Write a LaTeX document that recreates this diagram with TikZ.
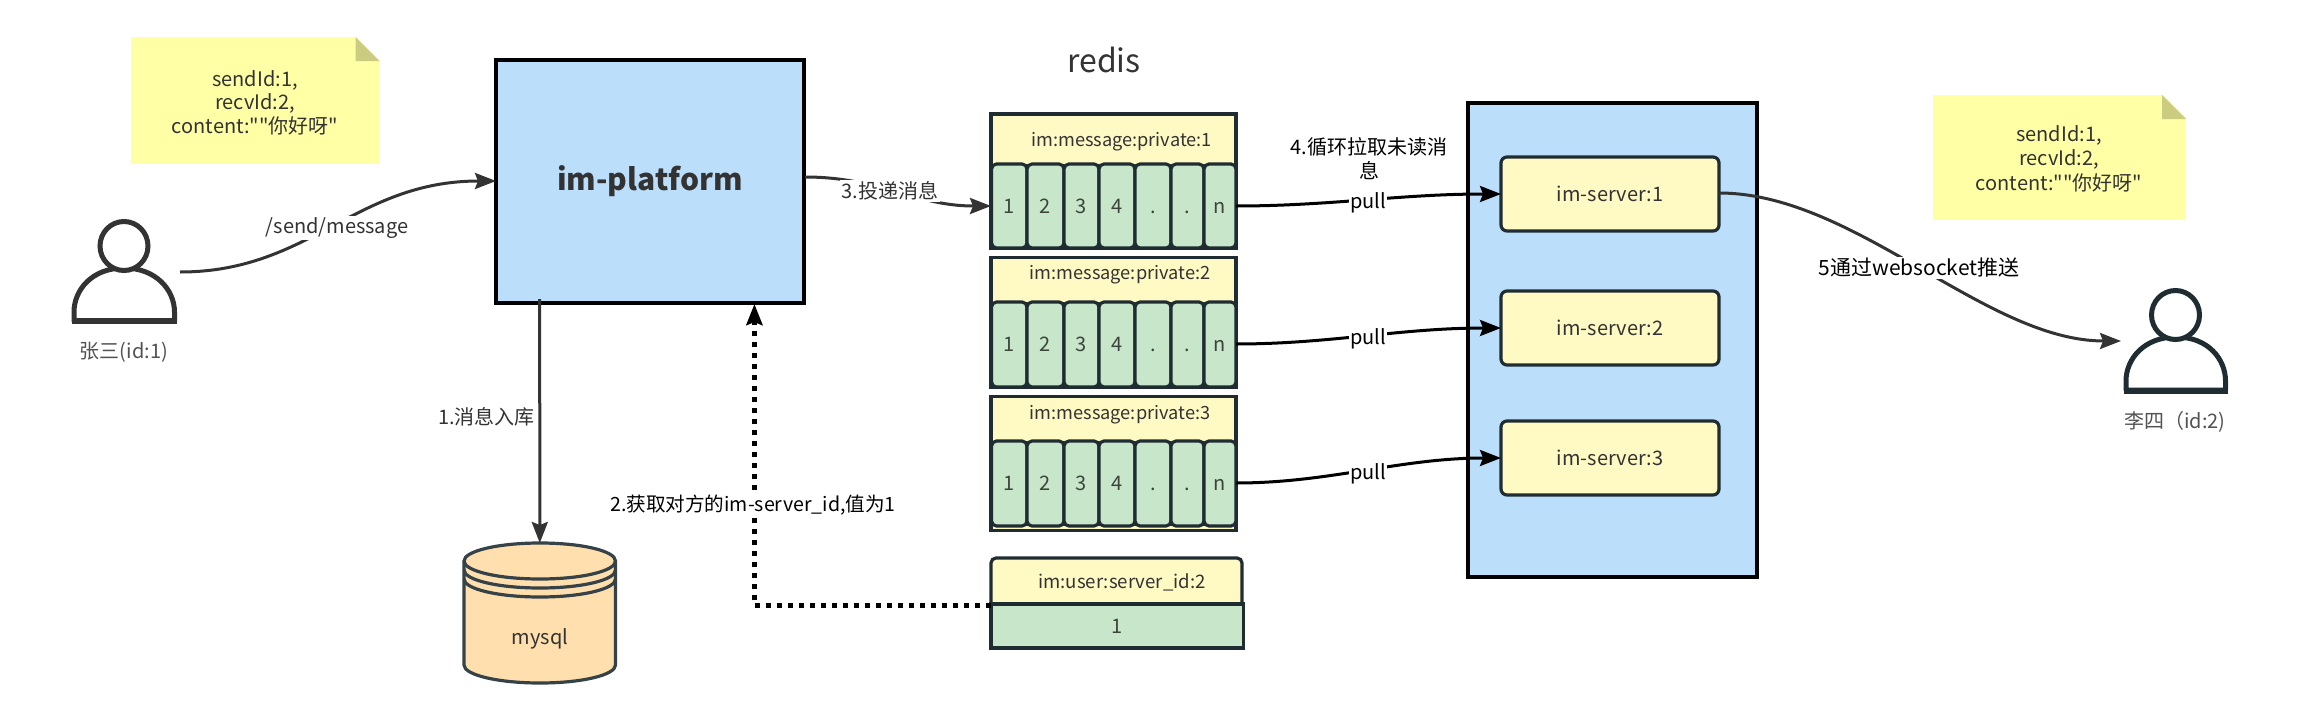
\documentclass[tikz,border=0pt]{standalone}
\usepackage{fontspec}
\newfontfamily\nf{Noto Sans CJK SC}
\usetikzlibrary{arrows.meta,calc}
\definecolor{noteY}{HTML}{FFFFA6}
\definecolor{noteF}{HTML}{CCCC80}
\definecolor{boxB}{HTML}{BBDEFB}
\definecolor{boxY}{HTML}{FFF9C4}
\definecolor{boxG}{HTML}{C8E6C9}
\definecolor{dbO}{HTML}{FFDFAE}
\definecolor{ink}{HTML}{1F2D33}
\definecolor{txt}{HTML}{333333}
\tikzset{
  x=1pt,y=-1pt,
  every node/.style={inner sep=0pt,outer sep=0pt,align=center},
  lab/.style={font=\nf\fontsize{20}{24}\selectfont,text=txt},
  small/.style={font=\nf\fontsize{18.2}{24}\selectfont,text=txt},
  edgelab/.style={lab,fill=white,inner sep=1.5pt},
  cell/.style={draw=ink,line width=3.2pt,fill=boxG,rounded corners=5pt,lab,text=black!70!boxG},
  srv/.style={draw=ink,line width=3.2pt,fill=boxY,rounded corners=6pt,lab,minimum width=218pt,minimum height=74pt},
  qbox/.style={draw=ink,line width=3.2pt,fill=boxY,minimum width=245pt},
  arrowhd/.style={-{Stealth[length=21pt,width=16pt,inset=3pt]}},
  conn/.style={arrowhd,line width=3pt,draw=txt},
  pullc/.style={arrowhd,line width=3pt,draw=black},
  pulllab/.style={edgelab,text=black},
  person/.style={line width=5pt},
}
\newcommand{\qcells}[3]{% name, top, height
  \foreach \a/\b/\t [count=\i] in {991.5/1027/1,1027/1064/2,1064/1099/3,1099/1135/4,1135/1171/.,1171/1204/.,1204/1236/n}
    \node[cell,minimum width={\b-\a},minimum height=#3] (#1c\i) at ({(\a+\b)/2},{#2+#3/2}) {\vphantom{1}\t};
}
\begin{document}
\begin{tikzpicture}
\useasboundingbox (0,0) rectangle (2299,720);
% notes
\node[fill=noteY,minimum width=249pt,minimum height=127pt] (note1) at (255,100.5) {};
\fill[white] (355.5,36) -- (380.5,36) -- (380.5,61) -- cycle;
\fill[noteF] (355.5,37) -- (379.4,61) -- (355.5,61) -- cycle;
\node[lab,text width=200pt,font=\nf\fontsize{20}{23.5}\selectfont] (note1t) at (255,102.5) {sendId:1,\\recvId:2,\\content:""你好呀"};
\node[fill=noteY,minimum width=253pt,minimum height=125pt] (note2) at (2059.5,157.5) {};
\fill[white] (2162,94) -- (2187,94) -- (2187,119) -- cycle;
\fill[noteF] (2162,95) -- (2186,119) -- (2162,119) -- cycle;
\node[lab,text width=200pt,font=\nf\fontsize{20}{24.5}\selectfont] (note2t) at (2059,158.5) {sendId:1,\\recvId:2,\\content:""你好呀"};
% platform
\node[draw=black,line width=3.5pt,fill=boxB,minimum width=308pt,minimum height=243pt,font=\nf\fontsize{30}{36}\selectfont\bfseries,text=txt] (plat) at (650,181.5) {im-platform};
% persons
\draw[person,draw=txt,fill=white,line join=round] (74,321) -- (74,312) .. controls (74,290) and (92,268) .. (124,268) .. controls (156,268) and (174.5,290) .. (174.5,312) -- (174.5,321) -- cycle;
\draw[line width=6pt,draw=txt] (71.5,320.5) -- (177,320.5);
\draw[person,draw=txt,fill=white] (124,246) ellipse (24pt and 24.5pt);
\node[minimum width=105pt,minimum height=103pt] (zs) at (124,271.5) {};
\node[lab,text=txt!85] (zsl) at (124,352) {张三(id:1)};
\draw[person,draw=ink,fill=white,line join=round] (2126,390) -- (2126,381) .. controls (2126,359) and (2144,337) .. (2176,337) .. controls (2208,337) and (2225.5,359) .. (2225.5,381) -- (2225.5,390) -- cycle;
\draw[line width=6pt,draw=ink] (2123.5,390.5) -- (2228,390.5);
\draw[person,draw=ink,fill=white] (2175.5,315) ellipse (24pt and 24.5pt);
\node[minimum width=105pt,minimum height=105pt] (ls) at (2176,340.5) {};
\node[lab,text=txt!85] (lsl) at (2175,422) {李四（id:2)};
% redis title
\node[font=\nf\fontsize{32}{40}\selectfont,text=txt] (redis) at (1104,60) {redis};
% queues
\node[qbox,minimum height=134pt] (q1) at (1113.5,181) {};
\node[small] (q1t) at (1121.6,141.7) {im:message:private:1};
\qcells{q1}{164}{84}
\node[qbox,minimum height=129.5pt] (q2) at (1113.5,322.5) {};
\node[small] (q2t) at (1120,275) {im:message:private:2};
\qcells{q2}{302}{85}
\node[qbox,minimum height=133.5pt] (q3) at (1113.5,463.5) {};
\node[small] (q3t) at (1120,415) {im:message:private:3};
\qcells{q3}{441}{85}
% user server id
\node[draw=ink,line width=3.2pt,fill=boxY,rounded corners=5pt,minimum width=251pt,minimum height=50pt,lab] (uh) at (1116.5,583) {};
\node[small,font=\nf\fontsize{18.6}{24}\selectfont] (uht) at (1122,582) {im:user:server\_id:2};
\node[draw=ink,line width=3.2pt,fill=boxG,minimum width=252.5pt,minimum height=44pt,lab,text=black!70!boxG] (uv) at (1117.2,626) {1};
% servers
\node[draw=black,line width=3.5pt,fill=boxB,minimum width=289pt,minimum height=474pt] (srvs) at (1612.5,340) {};
\node[srv] (s1) at (1610,194) {im-server:1};
\node[srv] (s2) at (1610,328) {im-server:2};
\node[srv] (s3) at (1610,458) {im-server:3};
% db
\draw[line width=3.2pt,draw=ink!90,fill=dbO] (464,561) .. controls (464,551) and (498,543) .. (540,543) .. controls (582,543) and (615.5,551) .. (615.5,561) -- (615.5,665) .. controls (615.5,675) and (582,683) .. (540,683) .. controls (498,683) and (464,675) .. (464,665) -- cycle;
\foreach \d in {0,9,18}
  \draw[line width=3.2pt,draw=ink!90] (464,561+\d) .. controls (464,571+\d) and (498,579+\d) .. (540,579+\d) .. controls (582,579+\d) and (615.5,571+\d) .. (615.5,561+\d);
\node[minimum width=151.5pt,minimum height=140pt] (db) at (539.8,613) {};
\node[lab] (dbt) at (540,638.7) {mysql};
% connectors
\coordinate (platIn) at (539.7,299);
\coordinate (platUp) at (754.4,304);
\coordinate (uleft) at (991,605.7);
\coordinate (platOut) at (805,177);
\coordinate (zsOut) at (180,272);
\coordinate (platL) at (496,181);
\coordinate (lsIn) at (2121,341);
\coordinate (s1o) at (1719,193);
\coordinate (q1a) at (991,206);
\coordinate (p1a) at (1236,206);
\coordinate (p1b) at (1501,194);
\coordinate (p2a) at (1236,344);
\coordinate (p2b) at (1501,328);
\coordinate (p3a) at (1236,483);
\coordinate (p3b) at (1501,458);
\draw[conn] (zsOut) .. controls (310,272) and (355,181) .. (platL);
\node[edgelab] (l0) at (337,228) {/send/message};
\draw[conn] (platIn) -- (db.north);
\node[edgelab] (l1) at (486.5,417) {1.消息入库};
\draw[arrowhd,line width=5pt,dash pattern=on 5pt off 6pt,draw=black] (uleft) -| (platUp);
\node[edgelab,text=black,font=\nf\fontsize{19.6}{24}\selectfont] (l2) at (753,505) {2.获取对方的im-server\_id,值为1};
\draw[conn] (platOut) .. controls (880,177) and (915,206) .. (q1a);
\node[edgelab] (l3) at (890,191) {3.投递消息};
\draw[pullc] (p1a) .. controls (1330,206) and (1400,194) .. (p1b);
\draw[pullc] (p2a) .. controls (1330,344) and (1400,328) .. (p2b);
\draw[pullc] (p3a) .. controls (1330,483) and (1400,458) .. (p3b);
\node[pulllab] (l4a) at (1368,202.5) {pull};
\node[pulllab] (l4b) at (1368,338.5) {pull};
\node[pulllab] (l4c) at (1368,473.5) {pull};
\node[lab,text=black] (l4) at (1369,159) {4.循环拉取未读消\\息};
\draw[conn] (s1o) .. controls (1855,193) and (1985,341) .. (lsIn);
\node[edgelab,text=black,font=\nf\fontsize{21}{24}\selectfont] (l5) at (1919,268) {5通过websocket推送};
\end{tikzpicture}
\end{document}
